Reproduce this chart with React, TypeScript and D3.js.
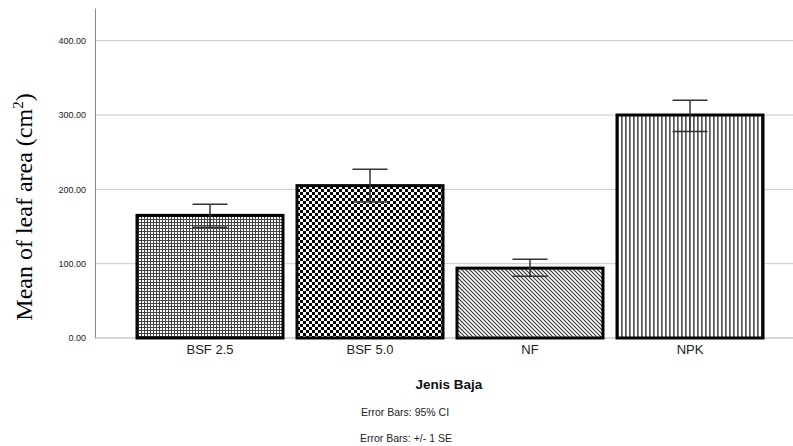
import React, { useEffect, useRef } from "react";
import * as d3 from "d3";

const categories = ["BSF 2.5", "BSF 5.0", "NF", "NPK"];
const means = [165, 205, 94, 300];
const errLow = [149, 183, 83, 278];
const errHigh = [180, 227, 106, 320];
const yTicks = [0, 100, 200, 300, 400];
const patterns = ["grid", "checker", "diag", "vert"];

const W = 793;
const H = 446;
const margin = { left: 95, top: 8, bottom: 108 };

const App = () => {
  const svgRef = useRef<SVGSVGElement>(null);

  useEffect(() => {
    const svg = d3.select(svgRef.current);
    svg.selectAll("*").remove();

    const y = d3
      .scaleLinear()
      .domain([0, 444])
      .range([H - margin.bottom, margin.top]);
    const x = d3
      .scaleBand()
      .domain(categories)
      .range([130, 770])
      .paddingInner(0.0875)
      .paddingOuter(0.04375);

    // fill patterns
    const defs = svg.append("defs");
    const grid = defs
      .append("pattern")
      .attr("id", "grid")
      .attr("patternUnits", "userSpaceOnUse")
      .attr("width", 3)
      .attr("height", 3);
    grid.append("rect").attr("width", 3).attr("height", 3).attr("fill", "#fff");
    grid.append("rect").attr("width", 1).attr("height", 3).attr("fill", "#444");
    grid.append("rect").attr("width", 3).attr("height", 1).attr("fill", "#444");

    const checker = defs
      .append("pattern")
      .attr("id", "checker")
      .attr("patternUnits", "userSpaceOnUse")
      .attr("width", 6)
      .attr("height", 6);
    checker.append("rect").attr("width", 6).attr("height", 6).attr("fill", "#fff");
    checker.append("rect").attr("width", 3).attr("height", 3).attr("fill", "#000");
    checker
      .append("rect")
      .attr("x", 3)
      .attr("y", 3)
      .attr("width", 3)
      .attr("height", 3)
      .attr("fill", "#000");

    const diag = defs
      .append("pattern")
      .attr("id", "diag")
      .attr("patternUnits", "userSpaceOnUse")
      .attr("width", 4)
      .attr("height", 4);
    diag.append("rect").attr("width", 4).attr("height", 4).attr("fill", "#fff");
    diag
      .append("path")
      .attr("d", "M-1,-1 L5,5 M3,-1 L5,1 M-1,3 L1,5")
      .attr("stroke", "#333")
      .attr("stroke-width", 1.1);

    const vert = defs
      .append("pattern")
      .attr("id", "vert")
      .attr("patternUnits", "userSpaceOnUse")
      .attr("width", 4)
      .attr("height", 4);
    vert.append("rect").attr("width", 4).attr("height", 4).attr("fill", "#fff");
    vert.append("rect").attr("x", 1).attr("width", 1.7).attr("height", 4).attr("fill", "#555");

    // gridlines
    svg
      .append("g")
      .selectAll("line")
      .data(yTicks.slice(1))
      .enter()
      .append("line")
      .attr("x1", margin.left)
      .attr("x2", W)
      .attr("y1", (d) => y(d))
      .attr("y2", (d) => y(d))
      .attr("stroke", "#c8c8c8")
      .attr("stroke-width", 1);

    // y axis
    const yAxis = svg
      .append("g")
      .attr("transform", `translate(${margin.left},0)`)
      .call(
        d3
          .axisLeft(y)
          .tickValues(yTicks)
          .tickSize(0)
          .tickPadding(9)
          .tickFormat(d3.format(".2f"))
      );
    yAxis.select(".domain").attr("stroke", "#888");
    yAxis
      .selectAll("text")
      .attr("font-family", "Arial, 'Liberation Sans', sans-serif")
      .attr("font-size", 9)
      .attr("fill", "#222");

    // baseline
    svg
      .append("line")
      .attr("x1", margin.left)
      .attr("x2", W)
      .attr("y1", y(0))
      .attr("y2", y(0))
      .attr("stroke", "#aaa");

    // bars
    svg
      .append("g")
      .selectAll("rect")
      .data(categories)
      .enter()
      .append("rect")
      .attr("x", (d) => x(d)!)
      .attr("y", (d, i) => y(means[i]))
      .attr("width", x.bandwidth())
      .attr("height", (d, i) => y(0) - y(means[i]))
      .attr("fill", (d, i) => `url(#${patterns[i]})`)
      .attr("stroke", "#000")
      .attr("stroke-width", 3);

    // error bars
    const eb = svg
      .append("g")
      .attr("stroke", "#333")
      .attr("stroke-width", 1.5)
      .selectAll("g")
      .data(categories)
      .enter()
      .append("g");
    const cx = (d: string) => x(d)! + x.bandwidth() / 2;
    eb.append("line")
      .attr("x1", cx)
      .attr("x2", cx)
      .attr("y1", (d, i) => y(errLow[i]))
      .attr("y2", (d, i) => y(errHigh[i]));
    eb.append("line")
      .attr("x1", (d) => cx(d) - 17.5)
      .attr("x2", (d) => cx(d) + 17.5)
      .attr("y1", (d, i) => y(errHigh[i]))
      .attr("y2", (d, i) => y(errHigh[i]));
    eb.append("line")
      .attr("x1", (d) => cx(d) - 17.5)
      .attr("x2", (d) => cx(d) + 17.5)
      .attr("y1", (d, i) => y(errLow[i]))
      .attr("y2", (d, i) => y(errLow[i]));

    // x axis labels
    const xAxis = svg
      .append("g")
      .attr("transform", `translate(0,${y(0)})`)
      .call(d3.axisBottom(x).tickSize(0).tickPadding(7));
    xAxis.select(".domain").remove();
    xAxis
      .selectAll("text")
      .attr("font-family", "Arial, 'Liberation Sans', sans-serif")
      .attr("font-size", 13)
      .attr("fill", "#222");

    const sans = "Arial, 'Liberation Sans', sans-serif";
    svg
      .append("text")
      .attr("x", 449)
      .attr("y", 389)
      .attr("text-anchor", "middle")
      .attr("font-family", sans)
      .attr("font-weight", "bold")
      .attr("font-size", 13.5)
      .attr("fill", "#111")
      .text("Jenis Baja");
    svg
      .append("text")
      .attr("x", 361)
      .attr("y", 416)
      .attr("font-family", sans)
      .attr("font-size", 10.5)
      .attr("fill", "#222")
      .text("Error Bars: 95% CI");
    svg
      .append("text")
      .attr("x", 360)
      .attr("y", 442)
      .attr("font-family", sans)
      .attr("font-size", 10.5)
      .attr("fill", "#222")
      .text("Error Bars: +/- 1 SE");

    // y title
    const yt = svg
      .append("text")
      .attr("transform", `translate(32,${(y(0) + y(444)) / 2 + 34}) rotate(-90)`)
      .attr("text-anchor", "middle")
      .attr("font-family", "'Times New Roman', 'Liberation Serif', serif")
      .attr("font-size", 24)
      .attr("fill", "#000");
    yt.append("tspan").text("Mean of leaf area (cm");
    yt.append("tspan").attr("font-size", 15).attr("dy", -9).text("2");
    yt.append("tspan").attr("dy", 9).text(")");
  }, []);

  return (
    <svg
      ref={svgRef}
      width={W}
      height={H}
      style={{ position: "absolute", left: 0, top: 0, background: "#fff" }}
    ></svg>
  );
};

export default App;
